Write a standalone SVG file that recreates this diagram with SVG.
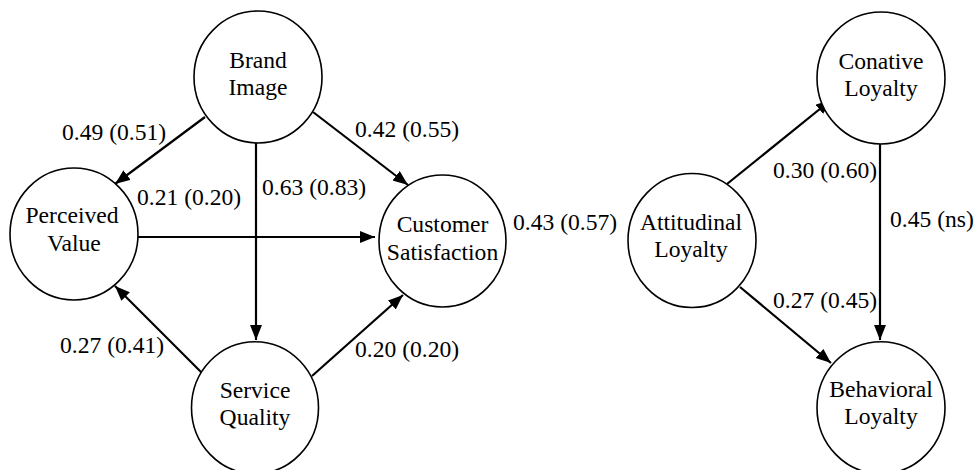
<svg xmlns="http://www.w3.org/2000/svg" width="976" height="470" viewBox="0 0 976 470">
<style>
.node ellipse{fill:#fff;stroke:#000;stroke-width:1.6}
text{font-family:"Liberation Serif","Times New Roman",serif;font-size:23.6px;fill:#000}
.node text{text-anchor:middle}
.edge{stroke:#000;stroke-width:2.2;fill:none;marker-end:url(#ah)}
</style>
<defs>
<marker id="ah" markerUnits="userSpaceOnUse" markerWidth="16" markerHeight="13" refX="15" refY="6" orient="auto">
<path d="M0,0 L15,6 L0,12 z" fill="#000"/>
</marker>
</defs>
<rect width="976" height="470" fill="#fff"/>
<g id="connectors">
<path class="edge" d="M205,117 L115,184"/>
<path class="edge" d="M256,143 L256,340"/>
<path class="edge" d="M313,112 L408,185"/>
<path class="edge" d="M138,237 L375,237"/>
<path class="edge" d="M205,376 L115,286"/>
<path class="edge" d="M312,376 L403,295"/>
<path class="edge" d="M727,184 L831,100"/>
<path class="edge" d="M880,144 L880,340"/>
<path class="edge" d="M740,287 L831,363"/>
</g>
<g id="brand-image" class="node"><ellipse cx="258" cy="77" rx="64" ry="66"/><text x="258" y="67.5">Brand</text><text x="258" y="94.5">Image</text></g>
<g id="perceived-value" class="node"><ellipse cx="74" cy="234" rx="64" ry="66"/><text x="72" y="223">Perceived</text><text x="74" y="251">Value</text></g>
<g id="customer-satisfaction" class="node"><ellipse cx="442.5" cy="241" rx="63.5" ry="66"/><text x="442.5" y="232">Customer</text><text x="442.5" y="260">Satisfaction</text></g>
<g id="service-quality" class="node"><ellipse cx="255" cy="407.7" rx="63.5" ry="66"/><text x="255" y="398">Service</text><text x="255" y="425">Quality</text></g>
<g id="attitudinal-loyalty" class="node"><ellipse cx="692" cy="240.5" rx="64" ry="67"/><text x="691" y="230">Attitudinal</text><text x="691" y="257">Loyalty</text></g>
<g id="conative-loyalty" class="node"><ellipse cx="881" cy="78" rx="64" ry="66"/><text x="881" y="69">Conative</text><text x="881" y="96">Loyalty</text></g>
<g id="behavioral-loyalty" class="node"><ellipse cx="881" cy="407.7" rx="64" ry="66"/><text x="881" y="397">Behavioral</text><text x="881" y="424">Loyalty</text></g>
<g id="labels">
<text x="62" y="140">0.49 (0.51)</text>
<text x="137" y="205">0.21 (0.20)</text>
<text x="262" y="195">0.63 (0.83)</text>
<text x="355" y="137">0.42 (0.55)</text>
<text x="513" y="230">0.43 (0.57)</text>
<text x="60" y="353">0.27 (0.41)</text>
<text x="355" y="357">0.20 (0.20)</text>
<text x="773" y="178">0.30 (0.60)</text>
<text x="890" y="227">0.45 (ns)</text>
<text x="773" y="308">0.27 (0.45)</text>
</g>
</svg>
